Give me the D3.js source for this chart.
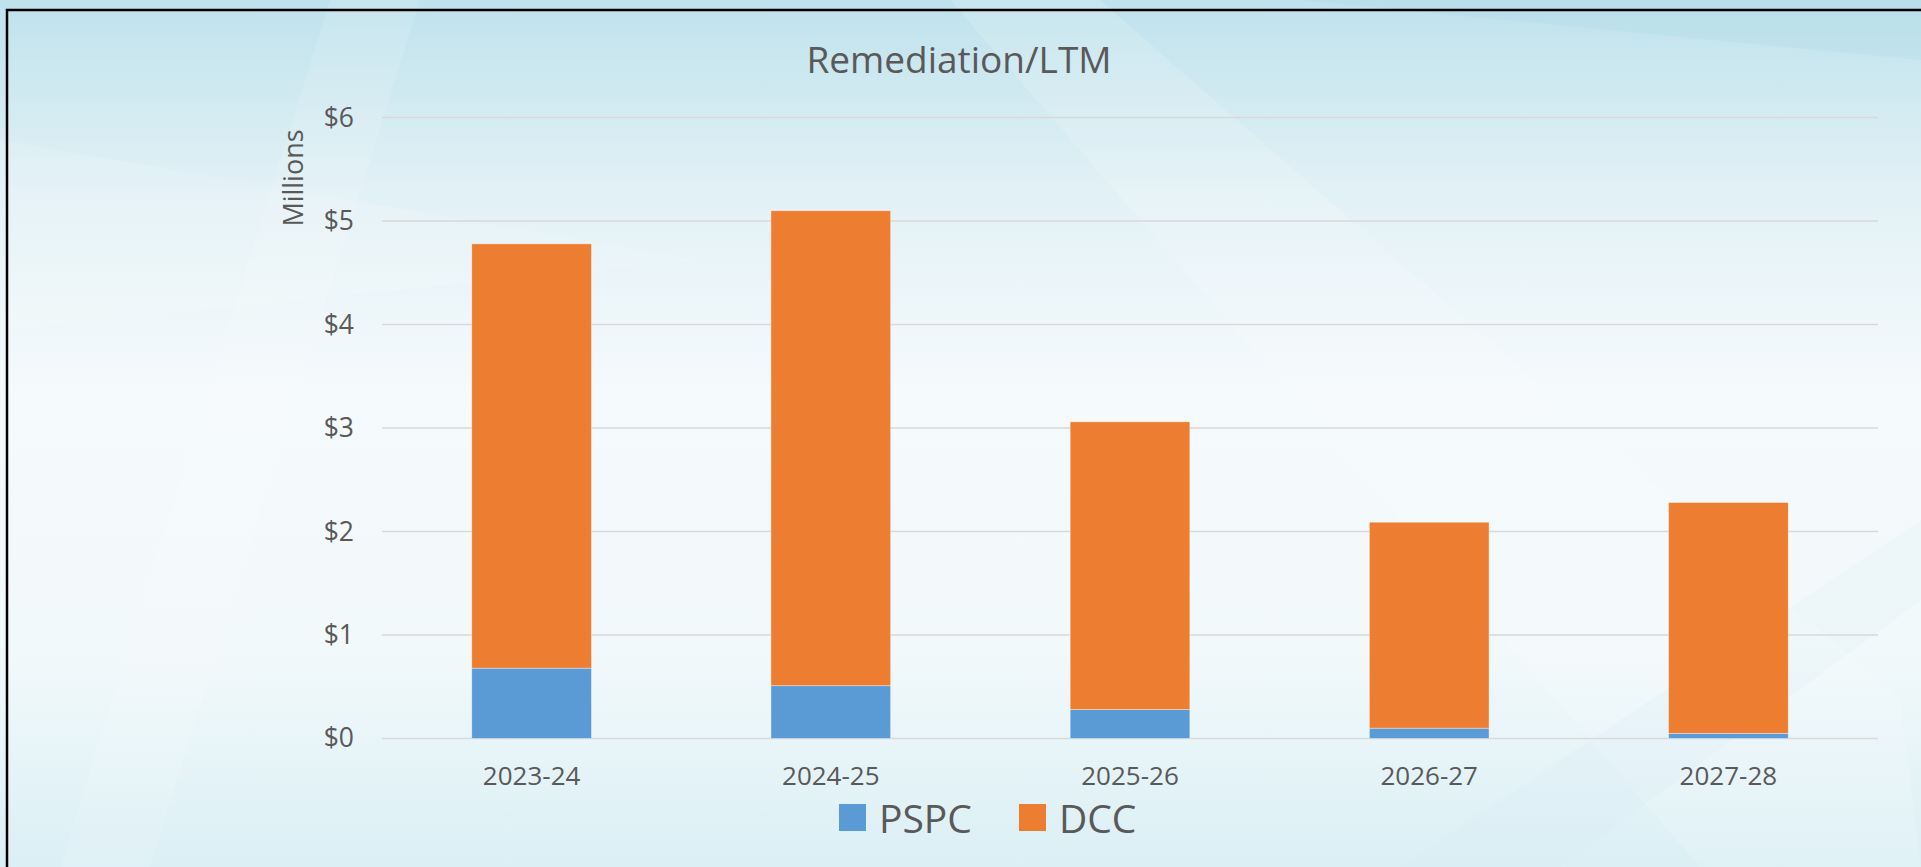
<!DOCTYPE html>
<html>
<head>
<meta charset="utf-8">
<script src="https://cdn.jsdelivr.net/npm/d3@7"></script>
<style>
  body { margin: 0; overflow: hidden; }
  text { font-family: "Open Sans", sans-serif; fill: #595959; }
</style>
</head>
<body>
<svg id="chart"></svg>
<script>
var categories = ["2023-24", "2024-25", "2025-26", "2026-27", "2027-28"];
var pspc = [0.68, 0.51, 0.28, 0.10, 0.05];
var dcc = [4.10, 4.59, 2.78, 1.99, 2.23];
var yTicks = [0, 1, 2, 3, 4, 5, 6];
var seriesNames = ["PSPC", "DCC"];
var seriesColors = ["#5B9BD5", "#ED7D31"];

var width = 1921;
var height = 867;

var svg = d3.select("svg#chart")
            .attr("width", width)
            .attr("height", height);

// background
var defs = svg.append("defs");
var grad = defs.append("linearGradient")
               .attr("id", "bg")
               .attr("x1", 0).attr("y1", 0)
               .attr("x2", 0).attr("y2", 1);
grad.append("stop").attr("offset", "0%").attr("stop-color", "#bfe2ec");
grad.append("stop").attr("offset", "22%").attr("stop-color", "#e2f1f6");
grad.append("stop").attr("offset", "45%").attr("stop-color", "#f5fafc");
grad.append("stop").attr("offset", "75%").attr("stop-color", "#f2f9fb");
grad.append("stop").attr("offset", "100%").attr("stop-color", "#dbeff5");

svg.append("rect")
   .attr("width", width)
   .attr("height", height)
   .attr("fill", "url(#bg)");

// faint diagonal streaks
var streaks = [
  {pts: "950,0 1100,0 1900,700 1921,867 1700,867", fill: "#ffffff", op: 0.15},
  {pts: "330,0 420,0 150,867 60,867", fill: "#ffffff", op: 0.12},
  {pts: "1400,867 1921,520 1921,600 1560,867", fill: "#d6edf4", op: 0.2},
  {pts: "0,140 700,260 0,330", fill: "#ffffff", op: 0.12},
  {pts: "1300,0 1921,60 1921,0", fill: "#a9d8e6", op: 0.25}
];
svg.selectAll("polygon.streak")
   .data(streaks)
   .enter()
   .append("polygon")
   .attr("class", "streak")
   .attr("points", function(d){ return d.pts; })
   .attr("fill", function(d){ return d.fill; })
   .attr("opacity", function(d){ return d.op; });

// frame
svg.append("path")
   .attr("d", "M7,867 V10 H1921")
   .attr("fill", "none")
   .attr("stroke", "#000")
   .attr("stroke-width", 2.5);

var x = d3.scaleBand()
          .domain(categories)
          .range([382, 1878])
          .paddingInner(0.6)
          .paddingOuter(0.3);

var y = d3.scaleLinear()
          .domain([0, 6])
          .range([738.5, 117.6]);

// gridlines
svg.selectAll("line.grid")
   .data(yTicks)
   .enter()
   .append("line")
   .attr("class", "grid")
   .attr("x1", 382)
   .attr("x2", 1878)
   .attr("y1", function(d){ return y(d); })
   .attr("y2", function(d){ return y(d); })
   .attr("stroke", "#d9d9d9")
   .attr("stroke-width", 1.5);

// y axis labels
var yAxis = d3.axisLeft(y)
              .tickValues(yTicks)
              .tickSize(0)
              .tickPadding(0)
              .tickFormat(function(d){ return "$" + d; });
var gy = svg.append("g")
            .attr("transform", "translate(354,0)")
            .call(yAxis);
gy.select(".domain").remove();
gy.selectAll("text")
  .attr("font-family", "Open Sans")
  .attr("font-size", 26.5)
  .attr("fill", "#595959");

// x axis labels
var xAxis = d3.axisBottom(x).tickSize(0).tickPadding(0);
var gx = svg.append("g")
            .attr("transform", "translate(0,766)")
            .call(xAxis);
gx.select(".domain").remove();
gx.selectAll("text")
  .attr("font-family", "Open Sans")
  .attr("font-size", 26)
  .attr("fill", "#595959")
  .attr("dy", "0.72em");

// stacked bars
var rows = categories.map(function(c, i){
  return {cat: c, PSPC: pspc[i], DCC: dcc[i]};
});
var stacked = d3.stack().keys(seriesNames)(rows);

svg.selectAll("g.series")
   .data(stacked)
   .enter()
   .append("g")
   .attr("class", "series")
   .attr("fill", function(d, i){ return seriesColors[i]; })
   .selectAll("rect")
   .data(function(d){ return d; })
   .enter()
   .append("rect")
   .attr("x", function(d){ return x(d.data.cat); })
   .attr("y", function(d){ return y(d[1]); })
   .attr("width", x.bandwidth())
   .attr("height", function(d){ return y(d[0]) - y(d[1]); })
   .attr("stroke", "#ffffff")
   .attr("stroke-opacity", 0.5)
   .attr("stroke-width", 0.75);

// title
svg.append("text")
   .text("Remediation/LTM")
   .attr("x", 959)
   .attr("y", 73)
   .attr("text-anchor", "middle")
   .attr("font-size", 37);

// y axis title
svg.append("text")
   .text("Millions")
   .attr("transform", "translate(303,178) rotate(-90)")
   .attr("text-anchor", "middle")
   .attr("font-size", 27);

// legend
var legendX = [839, 1019];
var lg = svg.selectAll("g.legend")
            .data(seriesNames)
            .enter()
            .append("g")
            .attr("class", "legend")
            .attr("transform", function(d, i){ return "translate(" + legendX[i] + ",804)"; });
lg.append("rect")
  .attr("width", 27)
  .attr("height", 27)
  .attr("fill", function(d, i){ return seriesColors[i]; });
lg.append("text")
  .text(function(d){ return d; })
  .attr("x", 40)
  .attr("y", 29)
  .attr("font-size", 39);
</script>
</body>
</html>
